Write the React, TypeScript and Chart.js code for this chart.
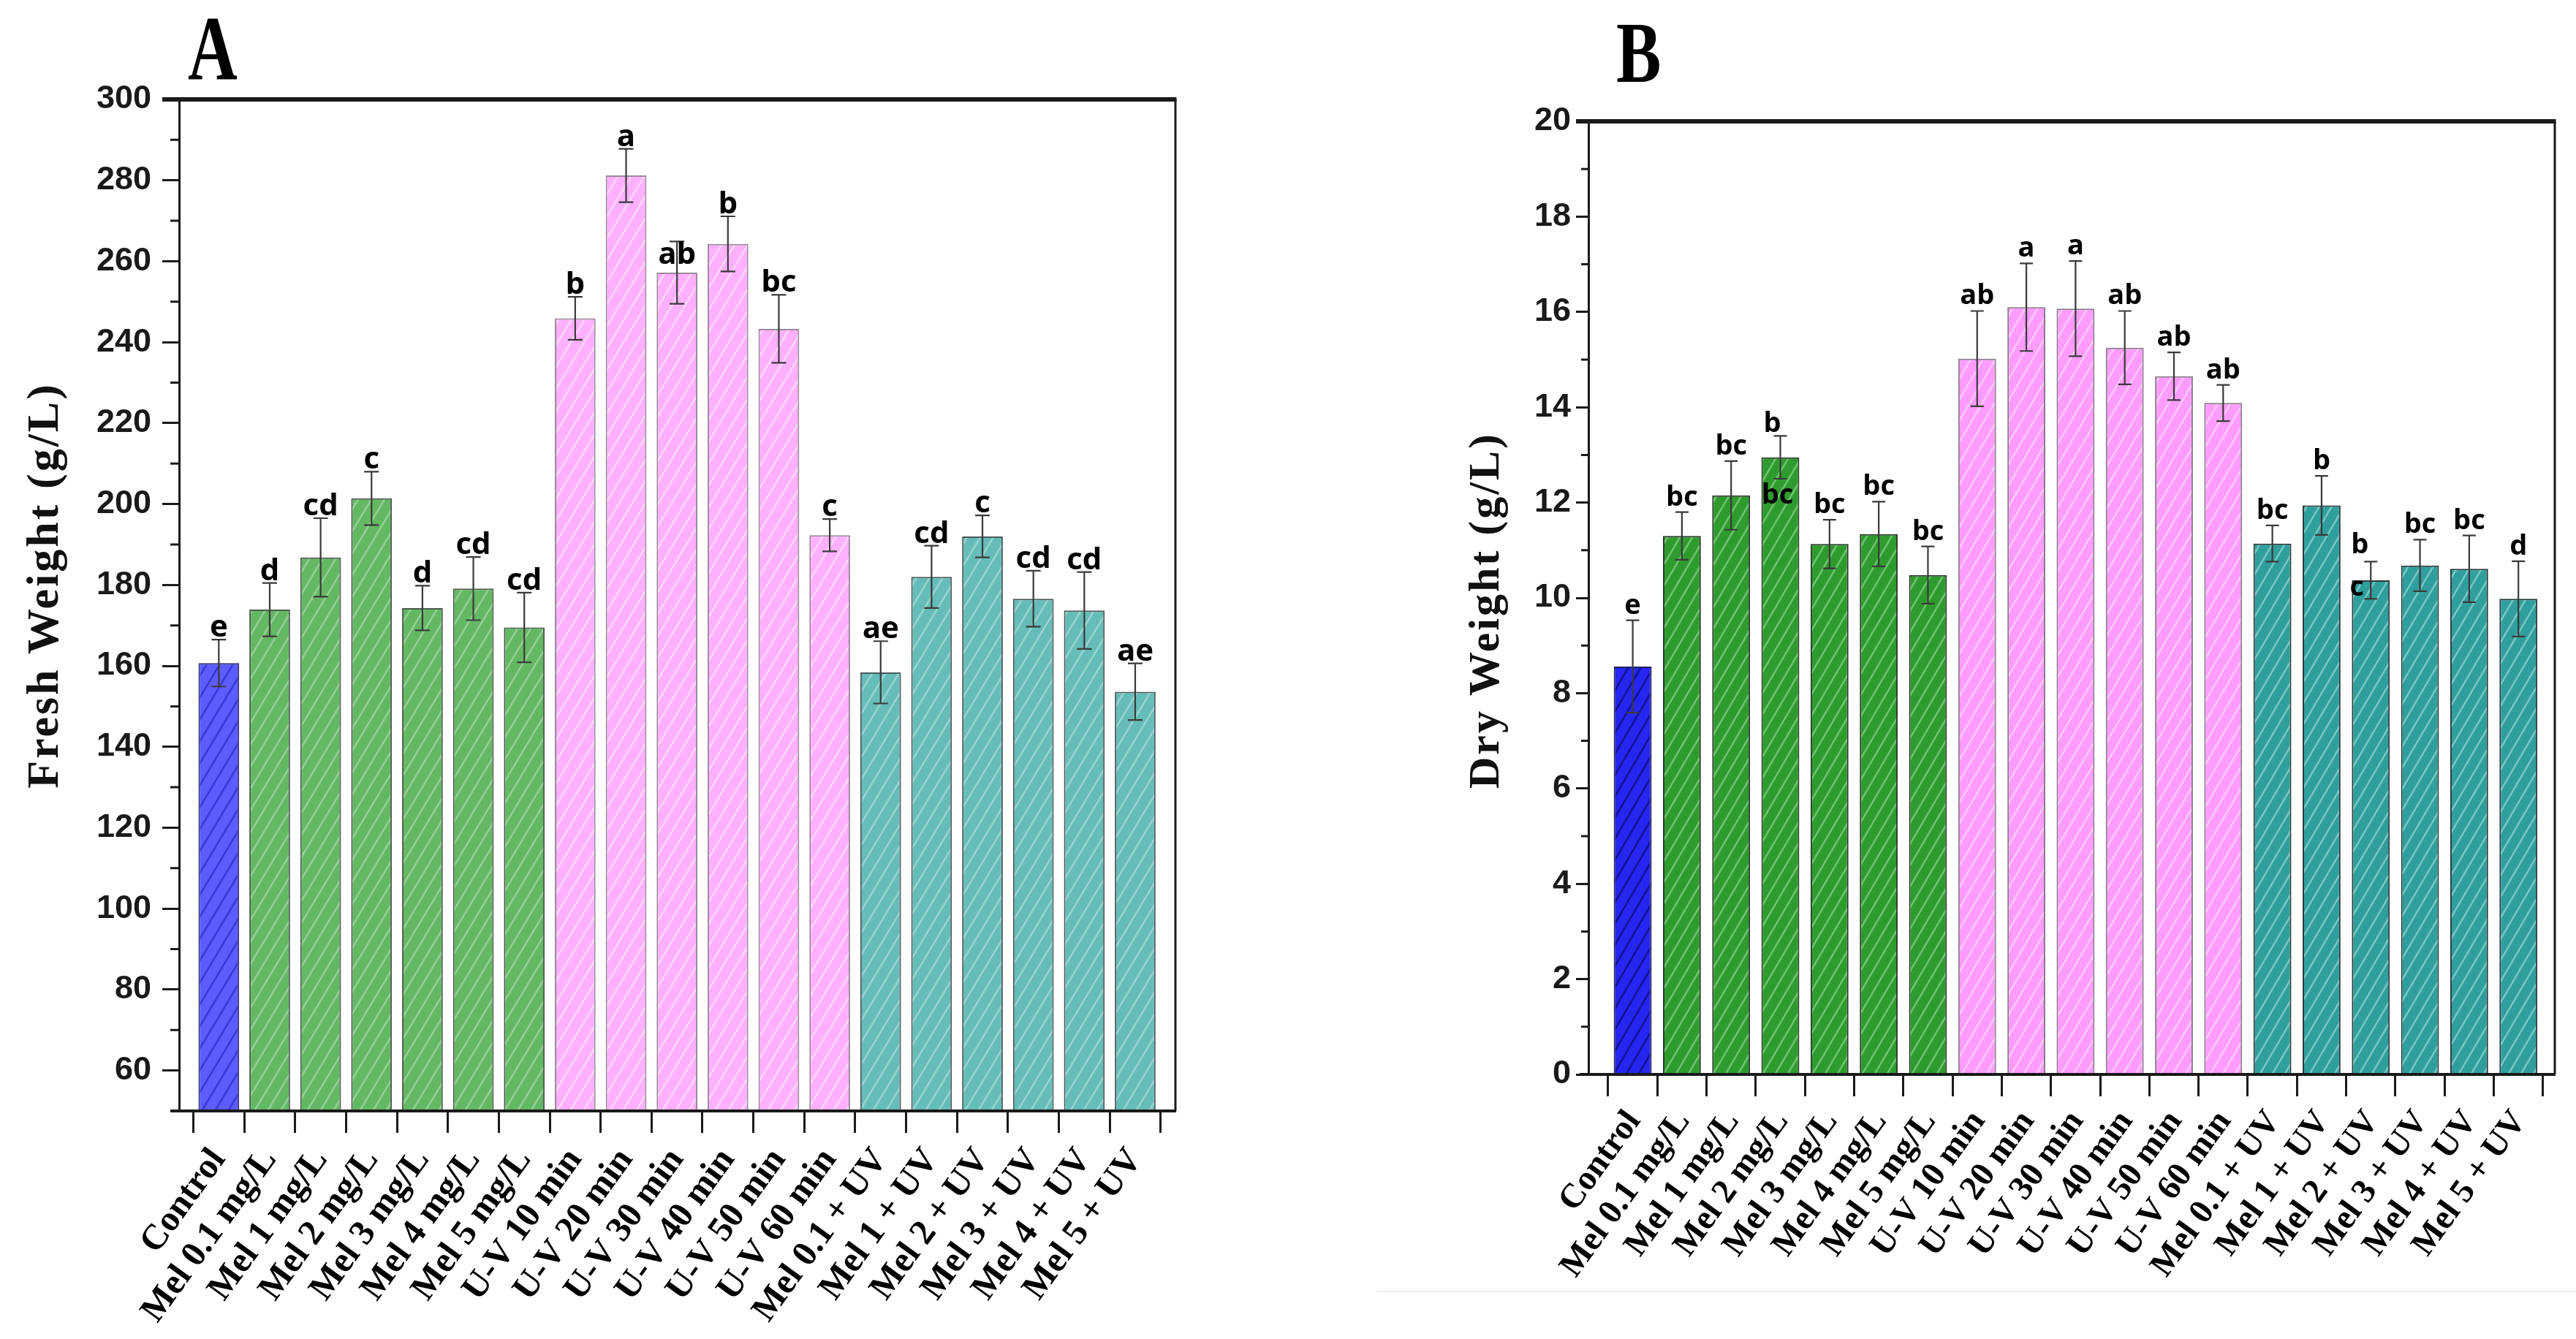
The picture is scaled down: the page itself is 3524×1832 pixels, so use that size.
import React, { useEffect, useRef } from 'react';
import { Chart, registerables } from 'chart.js';

Chart.register(...registerables);

// ---------- data ----------
const categories = [
  'Control', 'Mel 0.1 mg/L', 'Mel 1 mg/L', 'Mel 2 mg/L', 'Mel 3 mg/L', 'Mel 4 mg/L', 'Mel 5 mg/L',
  'U-V 10 min', 'U-V 20 min', 'U-V 30 min', 'U-V 40 min', 'U-V 50 min', 'U-V 60 min',
  'Mel 0.1 + UV', 'Mel 1 + UV', 'Mel 2 + UV', 'Mel 3 + UV', 'Mel 4 + UV', 'Mel 5 + UV',
];
const treatmentGroups = [
  'control', 'mel', 'mel', 'mel', 'mel', 'mel', 'mel',
  'uv', 'uv', 'uv', 'uv', 'uv', 'uv',
  'combo', 'combo', 'combo', 'combo', 'combo', 'combo',
];

const freshWeight = [160.7, 173.9, 186.8, 201.4, 174.3, 179.1, 169.5, 245.9, 281.2, 257.2, 264.3, 243.3, 192.3, 158.4, 182.0, 192.0, 176.6, 173.7, 153.6];
const freshError = [5.8, 6.6, 9.7, 6.6, 5.5, 7.8, 8.6, 5.3, 6.6, 7.7, 6.8, 8.4, 4.0, 7.7, 7.7, 5.2, 6.9, 9.5, 7.0];
const freshLetters = ['e', 'd', 'cd', 'c', 'd', 'cd', 'cd', 'b', 'a', 'ab', 'b', 'bc', 'c', 'ae', 'cd', 'c', 'cd', 'cd', 'ae'];
const freshInnerLetters = ['', '', '', '', '', '', '', '', '', '', '', '', '', '', '', '', '', '', ''];
const freshTicks = [60, 80, 100, 120, 140, 160, 180, 200, 220, 240, 260, 280, 300];
const freshMinorTicks = [70, 90, 110, 130, 150, 170, 190, 210, 230, 250, 270, 290];

const dryWeight = [8.56, 11.3, 12.15, 12.95, 11.13, 11.34, 10.48, 15.02, 16.1, 16.07, 15.25, 14.65, 14.09, 11.14, 11.94, 10.37, 10.68, 10.61, 9.98];
const dryError = [0.97, 0.5, 0.72, 0.45, 0.51, 0.68, 0.6, 1.0, 0.92, 1.0, 0.77, 0.5, 0.38, 0.38, 0.62, 0.39, 0.54, 0.7, 0.79];
const dryLetters = ['e', 'bc', 'bc', 'b', 'bc', 'bc', 'bc', 'ab', 'a', 'a', 'ab', 'ab', 'ab', 'bc', 'b', 'b', 'bc', 'bc', 'd'];
const dryInnerLetters = ['', '', '', 'bc', '', '', '', '', '', '', '', '', '', '', '', 'c', '', '', ''];
const dryTicks = [0, 2, 4, 6, 8, 10, 12, 14, 16, 18, 20];
const dryMinorTicks = [1, 3, 5, 7, 9, 11, 13, 15, 17, 19];

// ---------- styles ----------
const paletteA: Record<string, [string, string, string]> = {
  control: ['#5c5cff', '#3a3ad2', '#33337a'],
  mel: ['#64b864', '#92d092', '#4a5a4a'],
  uv: ['#ffb0ff', '#ffd6ff', '#9a8a9a'],
  combo: ['#66bcb8', '#96d4d0', '#4a5a5a'],
};
const paletteB: Record<string, [string, string, string]> = {
  control: ['#2626f0', '#12129a', '#202060'],
  mel: ['#2f9b2f', '#6cc46c', '#2a3a2a'],
  uv: ['#ff9cff', '#ffc8ff', '#8a7a8a'],
  combo: ['#309e9c', '#74c7c4', '#2a3a3a'],
};

const SERIF = '"Liberation Serif", "Times New Roman", serif';
const SANS = '"Liberation Sans", Arial, sans-serif';
const LETTER = '"Open Sans", Lato, sans-serif';

const geomA = {
  width: 1760, height: 1832, left: 245, right: 1608, top: 136, bottom: 1520,
  xMin: -0.78, xMax: 18.79, barPct: 0.8,
  majorLen: 23, minorLen: 12, tickPad: 15, xTickLen: 30,
  xFont: 49, xLabelDx: 0, xLabelDy: 58, xAngle: 54,
  yFont: 45, letterFont: 42, letterGap: 4, cap: 20,
  titleX: 63, titleY: 801, titleFont: 62,
  labelX: 257, labelY: 108, labelSize: 125, labelScale: 0.75,
  topWidth: 6, sideWidth: 3, bottomWidth: 4,
  hatchW: 18, hatchH: 30, hatchLW: 2.6,
  letterOffsets: { 9: [0, 35] } as Record<number, [number, number]>,
  innerOffsets: {} as Record<number, [number, number]>,
};
const geomB = {
  width: 1764, height: 1832, left: 413, right: 1735, top: 166, bottom: 1470,
  xMin: -0.9, xMax: 18.74, barPct: 0.77,
  majorLen: 17, minorLen: 10, tickPad: 7, xTickLen: 30,
  xFont: 47, xLabelDx: 2, xLabelDy: 56, xAngle: 54,
  yFont: 45, letterFont: 38, letterGap: 9, cap: 18,
  titleX: 274, titleY: 835, titleFont: 60,
  labelX: 451, labelY: 112, labelSize: 118, labelScale: 0.78,
  topWidth: 6, sideWidth: 3, bottomWidth: 4,
  hatchW: 17, hatchH: 29, hatchLW: 2.6,
  letterOffsets: { 3: [-11, 4], 15: [-15, -2] } as Record<number, [number, number]>,
  innerOffsets: { 3: [-4, 63], 15: [-19, 21] } as Record<number, [number, number]>,
};

function makeHatch(bg: string, stripe: string, w: number, h: number, lw: number) {
  const c = document.createElement('canvas');
  c.width = w;
  c.height = h;
  const g = c.getContext('2d')!;
  g.fillStyle = bg;
  g.fillRect(0, 0, w, h);
  g.strokeStyle = stripe;
  g.lineWidth = lw;
  g.beginPath();
  for (const k of [-1, 0, 1]) {
    g.moveTo(k * w - w, 2 * h);
    g.lineTo(k * w + 2 * w, -h);
  }
  g.stroke();
  return g.createPattern(c, 'repeat')!;
}

interface PanelSpec {
  values: number[];
  errors: number[];
  letters: string[];
  innerLetters: string[];
  ticks: number[];
  minor: number[];
  yMin: number;
  yMax: number;
  title: string;
  label: string;
  palette: Record<string, [string, string, string]>;
  geom: typeof geomA;
  extraLine?: boolean;
}

function buildChart(canvas: HTMLCanvasElement, p: PanelSpec) {
  const g = p.geom;
  const fills = treatmentGroups.map((grp) => makeHatch(p.palette[grp][0], p.palette[grp][1], g.hatchW, g.hatchH, g.hatchLW));
  const borders = treatmentGroups.map((grp) => p.palette[grp][2]);

  const decor = {
    id: 'decor',
    beforeDraw(chart: any) {
      const ctx = chart.ctx;
      ctx.save();
      ctx.fillStyle = '#ffffff';
      ctx.fillRect(0, 0, chart.width, chart.height);
      ctx.restore();
    },
    afterDatasetsDraw(chart: any) {
      const ctx = chart.ctx;
      const ys = chart.scales.y;
      const meta = chart.getDatasetMeta(0);
      ctx.save();
      meta.data.forEach((el: any, i: number) => {
        const x = el.x;
        const v = p.values[i];
        const e = p.errors[i];
        const yt = ys.getPixelForValue(v + e);
        const yb = ys.getPixelForValue(v - e);
        ctx.strokeStyle = '#3a3a3a';
        ctx.lineWidth = 2.2;
        ctx.beginPath();
        ctx.moveTo(x, yt);
        ctx.lineTo(x, yb);
        ctx.moveTo(x - g.cap / 2, yt);
        ctx.lineTo(x + g.cap / 2, yt);
        ctx.moveTo(x - g.cap / 2, yb);
        ctx.lineTo(x + g.cap / 2, yb);
        ctx.stroke();

        ctx.fillStyle = '#000';
        ctx.font = `bold ${g.letterFont}px ${LETTER}`;
        ctx.textAlign = 'center';
        ctx.textBaseline = 'alphabetic';
        const off = g.letterOffsets[i] || [0, 0];
        ctx.fillText(p.letters[i], x + off[0], yt - g.letterGap + off[1]);
        if (p.innerLetters[i]) {
          const io = g.innerOffsets[i] || [0, 20];
          const ybar = ys.getPixelForValue(v);
          ctx.fillText(p.innerLetters[i], x + io[0], ybar + io[1]);
        }
      });
      ctx.restore();
    },
    afterDraw(chart: any) {
      const ctx = chart.ctx;
      const { left, right, top, bottom } = chart.chartArea;
      const ys = chart.scales.y;
      const xs = chart.scales.x;
      ctx.save();
      ctx.strokeStyle = '#1a1a1a';
      // top frame line
      ctx.lineWidth = g.topWidth;
      ctx.beginPath();
      ctx.moveTo(left - g.majorLen, top);
      ctx.lineTo(right + g.sideWidth / 2, top);
      ctx.stroke();
      // right frame line
      ctx.lineWidth = g.sideWidth;
      ctx.beginPath();
      ctx.moveTo(right, top);
      ctx.lineTo(right, bottom);
      ctx.stroke();
      // bottom axis extension to the left
      ctx.lineWidth = g.bottomWidth;
      ctx.beginPath();
      ctx.moveTo(left - 12, bottom);
      ctx.lineTo(left, bottom);
      ctx.stroke();
      // minor ticks
      ctx.lineWidth = 3;
      ctx.beginPath();
      p.minor.forEach((v) => {
        const y = ys.getPixelForValue(v);
        ctx.moveTo(left - g.minorLen, y);
        ctx.lineTo(left, y);
      });
      ctx.stroke();

      // rotated category labels
      ctx.fillStyle = '#000';
      ctx.font = `bold ${g.xFont}px ${SERIF}`;
      ctx.textAlign = 'right';
      ctx.textBaseline = 'middle';
      categories.forEach((lab, i) => {
        const x = xs.getPixelForValue(i);
        ctx.save();
        ctx.translate(x + g.xLabelDx, bottom + g.xLabelDy);
        ctx.rotate((-g.xAngle * Math.PI) / 180);
        ctx.fillText(lab, 0, 0);
        ctx.restore();
      });

      // y-axis title
      ctx.save();
      ctx.translate(g.titleX, g.titleY);
      ctx.rotate(-Math.PI / 2);
      ctx.fillStyle = '#111';
      ctx.font = `bold ${g.titleFont}px ${SERIF}`;
      try { (ctx as any).letterSpacing = '3px'; } catch (e) { /* ignore */ }
      ctx.textAlign = 'center';
      ctx.textBaseline = 'middle';
      ctx.fillText(p.title, 0, 0);
      ctx.restore();

      // panel label
      ctx.save();
      ctx.translate(g.labelX, g.labelY);
      ctx.scale(g.labelScale, 1);
      ctx.fillStyle = '#000';
      ctx.font = `bold ${g.labelSize}px ${SERIF}`;
      ctx.textAlign = 'left';
      ctx.textBaseline = 'alphabetic';
      ctx.fillText(p.label, 0, 0);
      ctx.restore();

      if (p.extraLine) {
        ctx.strokeStyle = '#f1f1f1';
        ctx.lineWidth = 3;
        ctx.beginPath();
        ctx.moveTo(123, 1767);
        ctx.lineTo(chart.width, 1767);
        ctx.stroke();
      }
      ctx.restore();
    },
  };

  return new Chart(canvas, {
    type: 'bar',
    data: {
      datasets: [
        {
          data: p.values.map((v, i) => ({ x: i, y: v })),
          backgroundColor: fills,
          borderColor: borders,
          borderWidth: 2,
          borderSkipped: 'start',
          barPercentage: g.barPct,
          categoryPercentage: 1,
        },
      ],
    },
    options: {
      responsive: false,
      maintainAspectRatio: false,
      animation: false,
      events: [],
      layout: { padding: { left: 0, top: g.top, right: g.width - g.right, bottom: 0 } },
      plugins: {
        legend: { display: false },
        tooltip: { enabled: false },
        title: { display: false },
      },
      scales: {
        x: {
          type: 'linear',
          min: g.xMin,
          max: g.xMax,
          bounds: 'data',
          offset: false,
          afterBuildTicks: (s: any) => {
            s.ticks = categories.map((_, i) => ({ value: i }));
          },
          afterFit: (s: any) => {
            s.height = g.height - g.bottom;
          },
          grid: {
            display: true,
            drawOnChartArea: false,
            drawTicks: true,
            tickLength: g.xTickLen,
            tickWidth: 3,
            tickColor: '#1a1a1a',
            color: '#1a1a1a',
          },
          border: { display: true, width: g.bottomWidth, color: '#1a1a1a', z: 1 },
          ticks: {
            display: false,
            autoSkip: false,
            callback: (v: any) => categories[Math.round(Number(v))] ?? '',
          },
        },
        y: {
          type: 'linear',
          min: p.yMin,
          max: p.yMax,
          bounds: 'data',
          afterBuildTicks: (s: any) => {
            s.ticks = p.ticks.map((v) => ({ value: v }));
          },
          afterFit: (s: any) => {
            s.width = g.left;
          },
          grid: {
            display: true,
            drawOnChartArea: false,
            drawTicks: true,
            tickLength: g.majorLen,
            tickWidth: 3,
            tickColor: '#1a1a1a',
            color: '#1a1a1a',
          },
          border: { display: true, width: g.sideWidth, color: '#1a1a1a', z: 1 },
          ticks: {
            padding: g.tickPad,
            color: '#1a1a1a',
            font: { family: SANS, weight: 'bold', size: g.yFont },
            callback: (v: any) => String(v),
          },
        },
      },
    },
    plugins: [decor],
  } as any);
}

export default function App() {
  const refA = useRef<HTMLCanvasElement>(null);
  const refB = useRef<HTMLCanvasElement>(null);

  useEffect(() => {
    const a = buildChart(refA.current!, {
      values: freshWeight,
      errors: freshError,
      letters: freshLetters,
      innerLetters: freshInnerLetters,
      ticks: freshTicks,
      minor: freshMinorTicks,
      yMin: 50,
      yMax: 300,
      title: 'Fresh Weight (g/L)',
      label: 'A',
      palette: paletteA,
      geom: geomA,
    });
    const b = buildChart(refB.current!, {
      values: dryWeight,
      errors: dryError,
      letters: dryLetters,
      innerLetters: dryInnerLetters,
      ticks: dryTicks,
      minor: dryMinorTicks,
      yMin: 0,
      yMax: 20,
      title: 'Dry Weight (g/L)',
      label: 'B',
      palette: paletteB,
      geom: geomB,
      extraLine: true,
    });
    return () => {
      a.destroy();
      b.destroy();
    };
  }, []);

  return (
    <div style={{ position: 'absolute', left: 0, top: 0, width: 3524, height: 1832, overflow: 'hidden', background: '#fff' }}>
      <canvas
        ref={refA}
        width={1760}
        height={1832}
        style={{ position: 'absolute', left: 0, top: 0, width: 1760, height: 1832 }}
      />
      <canvas
        ref={refB}
        width={1764}
        height={1832}
        style={{ position: 'absolute', left: 1760, top: 0, width: 1764, height: 1832 }}
      />
    </div>
  );
}
